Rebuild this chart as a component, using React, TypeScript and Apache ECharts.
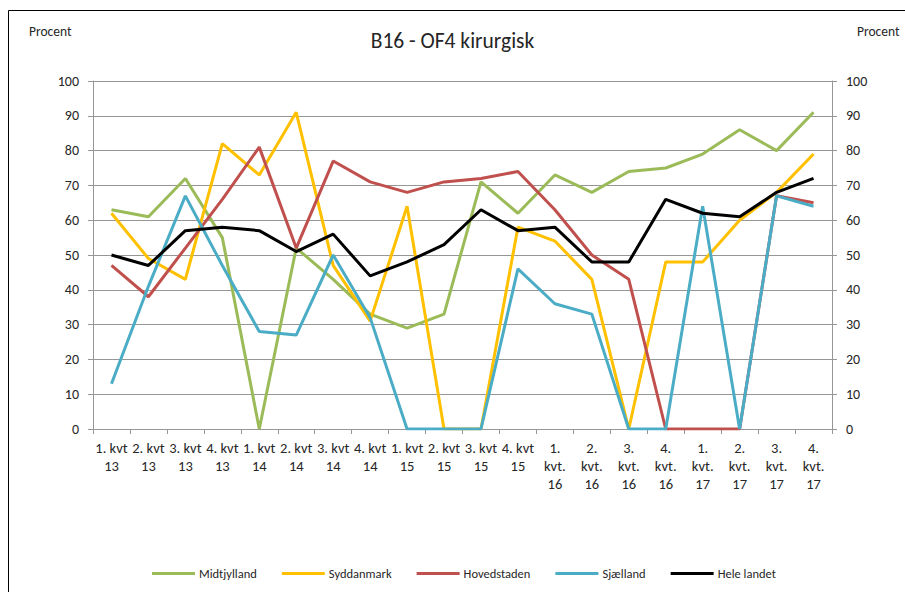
import React, { useEffect, useRef } from "react";
import * as echarts from "echarts";

const categories = [
  "1. kvt\n13", "2. kvt\n13", "3. kvt\n13", "4. kvt\n13",
  "1. kvt\n14", "2. kvt\n14", "3. kvt\n14", "4. kvt\n14",
  "1. kvt\n15", "2. kvt\n15", "3. kvt\n15", "4. kvt\n15",
  "1.\nkvt.\n16", "2.\nkvt.\n16", "3.\nkvt.\n16", "4.\nkvt.\n16",
  "1.\nkvt.\n17", "2.\nkvt.\n17", "3.\nkvt.\n17", "4.\nkvt.\n17",
];

const midtjylland = [63, 61, 72, 55, 0, 52, 43, 33, 29, 33, 71, 62, 73, 68, 74, 75, 79, 86, 80, 91];
const syddanmark = [62, 49, 43, 82, 73, 91, 47, 31, 64, 0, 0, 58, 54, 43, 0, 48, 48, 60, 68, 79];
const hovedstaden = [47, 38, 52, 66, 81, 52, 77, 71, 68, 71, 72, 74, 63, 50, 43, 0, 0, 0, 67, 65];
const sjaelland = [13, 41, 67, 47, 28, 27, 50, 32, 0, 0, 0, 46, 36, 33, 0, 0, 64, 0, 67, 64];
const heleLandet = [50, 47, 57, 58, 57, 51, 56, 44, 48, 53, 63, 57, 58, 48, 48, 66, 62, 61, 68, 72];

const seriesNames = ["Midtjylland", "Syddanmark", "Hovedstaden", "Sjælland", "Hele landet"];
const seriesColors = ["#9BBB59", "#FFC000", "#C0504D", "#4BACC6", "#000000"];
const seriesData = [midtjylland, syddanmark, hovedstaden, sjaelland, heleLandet];

const FONT = 'Carlito, "Liberation Sans", Arial, sans-serif';
const TEXT = "#262626";
const GRID = "#969696";

export default function App() {
  const ref = useRef<HTMLDivElement>(null);
  useEffect(() => {
    if (!ref.current) return;
    const chart = echarts.init(ref.current, undefined, { renderer: "svg" });
    const yAxisBase = {
      type: "value" as const,
      min: 0,
      max: 100,
      interval: 10,
      axisLine: { show: true, lineStyle: { color: GRID, width: 1 } },
      axisTick: { show: true, length: 5, lineStyle: { color: GRID } },
      splitLine: { show: true, lineStyle: { color: GRID, width: 1 } },
      axisLabel: { color: TEXT, fontSize: 14, fontFamily: FONT, margin: 14 },
    };
    chart.setOption({
      animation: false,
      backgroundColor: "#ffffff",
      textStyle: { fontFamily: FONT },
      title: {
        text: "B16 - OF4 kirurgisk",
        left: "center",
        top: 25,
        textStyle: { fontSize: 21.5, fontWeight: "normal", color: TEXT, fontFamily: FONT },
      },
      graphic: [
        {
          type: "rect",
          shape: { x: 8.5, y: 10.5, width: 1000, height: 1000 },
          style: { fill: "none", stroke: "#000", lineWidth: 1 },
          silent: true,
        },
        {
          type: "text",
          left: 29,
          top: 24,
          style: { text: "Procent", fontSize: 13.5, fill: TEXT, fontFamily: FONT },
        },
        {
          type: "text",
          left: 857,
          top: 24,
          style: { text: "Procent", fontSize: 13.5, fill: TEXT, fontFamily: FONT },
        },
      ],
      legend: {
        left: 147,
        top: 562,
        itemWidth: 43,
        itemHeight: 3,
        itemGap: 25,
        icon: "rect",
        textStyle: { color: TEXT, fontSize: 12.5, fontFamily: FONT, padding: [0, 0, 0, -1] },
        data: seriesNames,
      },
      grid: { left: 93, right: 73, top: 81, bottom: 163, containLabel: false },
      xAxis: {
        type: "category",
        data: categories,
        boundaryGap: true,
        axisLine: { show: true, lineStyle: { color: GRID } },
        axisTick: { show: true, length: 5, alignWithLabel: false, lineStyle: { color: GRID } },
        axisLabel: {
          interval: 0,
          color: TEXT,
          fontSize: 14.5,
          fontFamily: FONT,
          lineHeight: 18,
          margin: 10,
        },
      },
      yAxis: [
        { ...yAxisBase, position: "left" },
        { ...yAxisBase, position: "right", splitLine: { show: false } },
      ],
      series: seriesData.map((d, i) => ({
        name: seriesNames[i],
        type: "line",
        data: d,
        yAxisIndex: 0,
        symbol: "none",
        lineStyle: { color: seriesColors[i], width: 3 },
        itemStyle: { color: seriesColors[i] },
        z: 2 + i,
      })),
    });
    return () => chart.dispose();
  }, []);
  return (
    <div
      ref={ref}
      style={{ position: "fixed", left: 0, top: 0, width: 905, height: 592 }}
    />
  );
}
